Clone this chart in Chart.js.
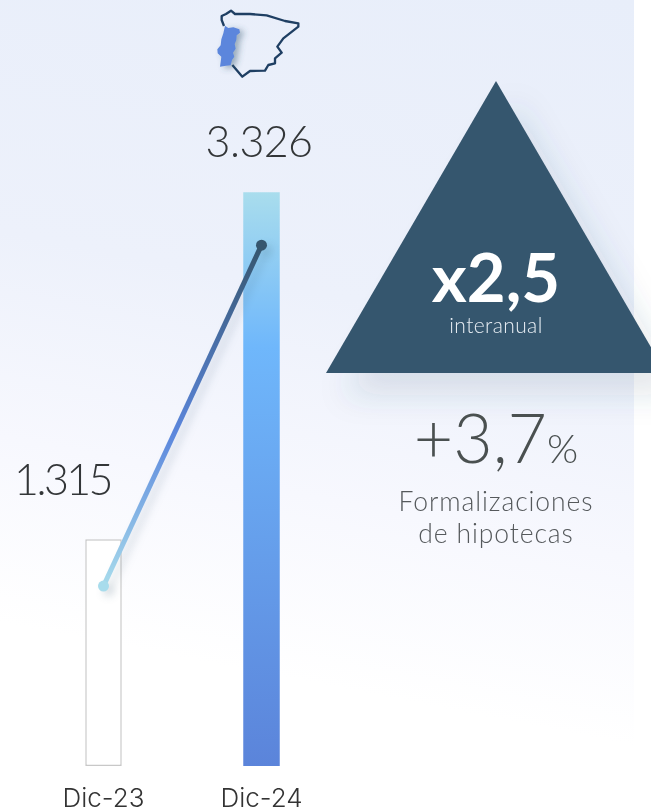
<!DOCTYPE html>
<html lang="es">
<head>
  <meta charset="UTF-8">
  <title>Formalizaciones de hipotecas</title>
  <script src="https://cdn.jsdelivr.net/npm/chart.js"></script>
  <style>
    html, body { margin: 0; padding: 0; background: #fff; }
    body { width: 651px; height: 809px; position: relative; overflow: hidden; font-family: Lato, sans-serif; }
    #bg { position: absolute; left: 0; top: 0; width: 634px; height: 809px;
      background: linear-gradient(191deg, #e8eefa 0%, #edf1fb 38%, #f7f8fe 60%, #ffffff 80%); }
    #myChart { position: absolute; left: 0; top: 0; display: block; }
    svg { position: absolute; }
    .txt { position: absolute; white-space: nowrap; text-align: center; }
  </style>
</head>
<body>
  <div id="bg"></div>

  <!-- triangulo -->
  <svg style="left:0;top:0" width="651" height="809">
    <defs>
      <filter id="triShadow" x="-30%" y="-30%" width="160%" height="160%">
        <feDropShadow dx="18" dy="22" stdDeviation="15" flood-color="#36566e" flood-opacity="0.13"/>
      </filter>
    </defs>
    <polygon points="496,81 326,373 666,373" fill="#36566e" filter="url(#triShadow)"/>
  </svg>

  <!-- mapa -->
  <svg style="left:200px;top:0" width="120" height="90" viewBox="0 0 360 270">
    <defs>
      <filter id="ptShadow" x="-50%" y="-30%" width="220%" height="160%">
        <feDropShadow dx="12" dy="6" stdDeviation="9" flood-color="#36566e" flood-opacity="0.45"/>
      </filter>
    </defs>
    <path d="M72 78 L65 60 L65 48 L78 42 L93 32 L105 42 L150 42 L200 46 L255 63 L295 70 L295 80 L250 115 L232 140 L245 158 L225 175 L225 190 L205 195 L195 212 L150 213 L127 230 L97 195"
      fill="none" stroke="#1f3f63" stroke-width="7" stroke-linejoin="round"/>
    <path d="M75 77 L85 84 L100 82 L118 88 L120 98 L110 106 L109 120 L104 132 L107 146 L99 158 L103 170 L96 180 L92 196 L78 197 L60 200 L62 186 L64 170 L53 160 L52 148 L62 136 L64 118 L70 100 Z"
      fill="#5b86dc" filter="url(#ptShadow)"/>
  </svg>

  <canvas id="myChart" width="651" height="809"></canvas>

  <div class="txt" style="left:396px;width:200px;top:238px;font-size:67px;line-height:76px;font-weight:700;color:#fff">x2,5</div>
  <div class="txt" style="left:396px;width:200px;top:313px;font-size:21px;line-height:24px;font-weight:300;letter-spacing:0.4px;color:#e8eef4">interanual</div>
  <div class="txt" style="left:396px;width:200px;top:401px;font-size:68px;line-height:72px;font-weight:300;color:#4a5050">+3,7<span style="font-size:40px">%</span></div>
  <div class="txt" style="left:396px;width:200px;top:485px;font-size:26.5px;line-height:32px;font-weight:300;letter-spacing:0.9px;color:#55595c">Formalizaciones<br>de hipotecas</div>

  <script>
    const categories = ['Dic-23', 'Dic-24'];
    const barValues = [1315, 3326];
    const barLabels = ['1.315', '3.326'];
    const lineValues = [1043, 3019];

    const canvas = document.getElementById('myChart');

    function barFill(c) {
      if (c.dataIndex === 0) return '#ffffff';
      const chart = c.chart;
      if (!chart.chartArea) return '#5b86dc';
      const y = chart.scales.y;
      const g = chart.ctx.createLinearGradient(0, y.getPixelForValue(3326), 0, y.getPixelForValue(0));
      g.addColorStop(0, '#a9dded');
      g.addColorStop(0.27, '#6fb7fb');
      g.addColorStop(1, '#5b84da');
      return g;
    }

    function lineStroke(c) {
      const chart = c.chart;
      if (!chart.chartArea) return '#5b86dc';
      const y = chart.scales.y;
      const g = chart.ctx.createLinearGradient(0, y.getPixelForValue(lineValues[0]), 0, y.getPixelForValue(lineValues[1]));
      g.addColorStop(0, '#a8dcec');
      g.addColorStop(0.45, '#5b86dc');
      g.addColorStop(1, '#36566e');
      return g;
    }

    // sombra de la linea y etiquetas de valor
    const extras = {
      id: 'extras',
      beforeDatasetDraw(chart, args) {
        if (args.index === 1) {
          chart.ctx.save();
          chart.ctx.shadowColor = 'rgba(54,86,110,0.18)';
          chart.ctx.shadowBlur = 8;
          chart.ctx.shadowOffsetX = 5;
          chart.ctx.shadowOffsetY = 5;
        }
      },
      afterDatasetDraw(chart, args) {
        if (args.index === 1) chart.ctx.restore();
      },
      afterDraw(chart) {
        const ctx = chart.ctx;
        const bars = chart.getDatasetMeta(0).data;
        const shiftX = [-41, -2.5];
        const shiftY = [44, 35];
        const spacing = ['-2.6px', '-0.6px'];
        ctx.save();
        ctx.font = '300 43px Lato, sans-serif';
        ctx.fillStyle = '#333638';
        ctx.textAlign = 'center';
        ctx.textBaseline = 'alphabetic';
        bars.forEach((b, i) => {
          ctx.letterSpacing = spacing[i];
          ctx.fillText(barLabels[i], b.x + shiftX[i], b.y - shiftY[i]);
        });
        ctx.restore();
      }
    };

    new Chart(canvas, {
      data: {
        labels: categories,
        datasets: [
          {
            type: 'bar',
            data: barValues,
            order: 2,
            backgroundColor: barFill,
            borderColor: ['#c8c8c8', 'rgba(0,0,0,0)'],
            borderWidth: [1.5, 0],
            borderSkipped: false,
            categoryPercentage: 1,
            barPercentage: 0.231
          },
          {
            type: 'line',
            data: lineValues,
            order: 1,
            borderColor: lineStroke,
            borderWidth: 5,
            tension: 0,
            pointRadius: 5.5,
            pointBorderWidth: 0,
            pointBackgroundColor: ['#a8dcec', '#36566e']
          }
        ]
      },
      options: {
        responsive: false,
        animation: false,
        layout: { padding: { left: 24.5, right: 310.5, top: 0, bottom: 0 } },
        plugins: { legend: { display: false }, tooltip: { enabled: false } },
        scales: {
          x: {
            grid: { display: false },
            border: { display: false },
            afterFit(s) { s.height = 43; },
            ticks: { color: '#333', padding: 10, maxRotation: 0, font: { family: 'Inter, sans-serif', size: 26, weight: 300 } }
          },
          y: { display: false, min: 0, max: 4408 }
        }
      },
      plugins: [extras]
    });
  </script>
</body>
</html>
